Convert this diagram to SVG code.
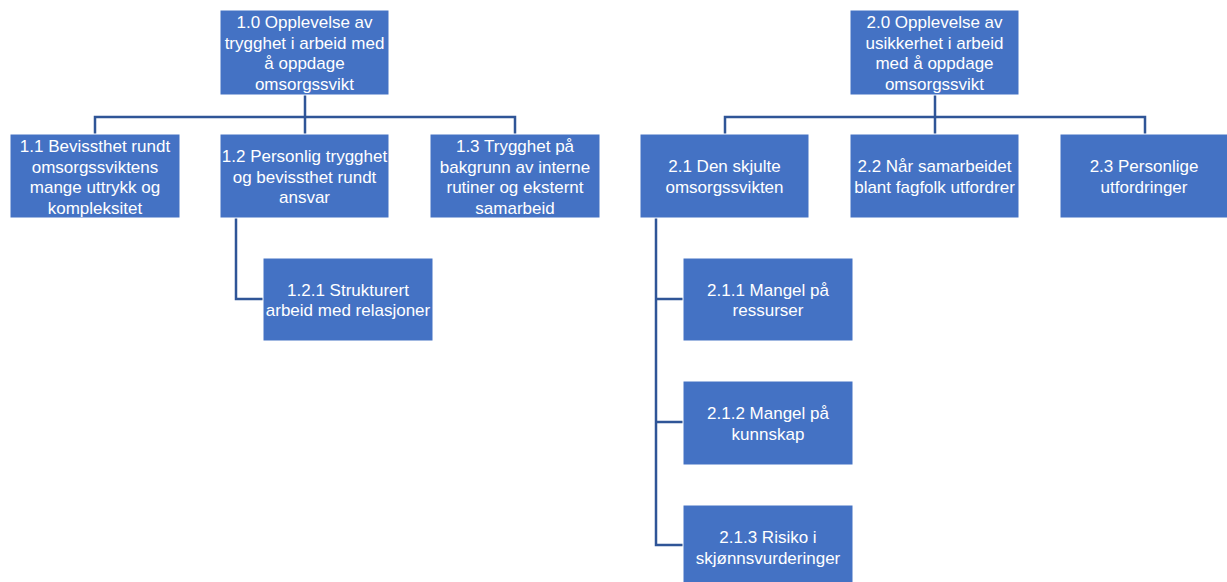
<svg xmlns="http://www.w3.org/2000/svg" width="1227" height="582" viewBox="0 0 1227 582">
<style>
.n{fill:#4472C4;stroke:#ffffff;stroke-width:1}
.t{fill:#ffffff;font-family:"Liberation Sans",Arial,sans-serif;font-size:17px;text-anchor:middle}
.c{fill:none;stroke:#2F5597;stroke-width:2.5}
</style>
<rect width="1227" height="582" fill="#ffffff"/>
<g id="connectors">
<path class="c" d="M305 95V117M95 134V117H515V134M305 117V134"/>
<path class="c" d="M236 218V299H263"/>
<path class="c" d="M935 95V117M725 134V117H1145V134M935 117V134"/>
<path class="c" d="M656 218V545H683M656 299H683M656 422H683"/>
</g>
<g id="n1_0"><rect class="n" x="220" y="10" width="169" height="85"/>
<text class="t"><tspan x="304.5" y="28">1.0 Opplevelse av</tspan><tspan x="304.5" y="48.5">trygghet i arbeid med</tspan><tspan x="304.5" y="69">å oppdage</tspan><tspan x="304.5" y="89.5">omsorgssvikt</tspan></text></g>
<g id="n1_1"><rect class="n" x="10" y="134" width="170" height="84"/>
<text class="t"><tspan x="95" y="152">1.1 Bevissthet rundt</tspan><tspan x="95" y="172.5">omsorgssviktens</tspan><tspan x="95" y="193">mange uttrykk og</tspan><tspan x="95" y="213.5">kompleksitet</tspan></text></g>
<g id="n1_2"><rect class="n" x="220" y="134" width="169" height="84"/>
<text class="t"><tspan x="304.5" y="162">1.2 Personlig trygghet</tspan><tspan x="304.5" y="182.5">og bevissthet rundt</tspan><tspan x="304.5" y="203">ansvar</tspan></text></g>
<g id="n1_3"><rect class="n" x="430" y="134" width="170" height="84"/>
<text class="t"><tspan x="515" y="152">1.3 Trygghet på</tspan><tspan x="515" y="172.5">bakgrunn av interne</tspan><tspan x="515" y="193">rutiner og eksternt</tspan><tspan x="515" y="213.5">samarbeid</tspan></text></g>
<g id="n1_2_1"><rect class="n" x="263" y="258" width="170" height="83"/>
<text class="t"><tspan x="348" y="295.5">1.2.1 Strukturert</tspan><tspan x="348" y="316">arbeid med relasjoner</tspan></text></g>
<g id="n2_0"><rect class="n" x="850" y="10" width="169" height="85"/>
<text class="t"><tspan x="934.5" y="28">2.0 Opplevelse av</tspan><tspan x="934.5" y="48.5">usikkerhet i arbeid</tspan><tspan x="934.5" y="69">med å oppdage</tspan><tspan x="934.5" y="89.5">omsorgssvikt</tspan></text></g>
<g id="n2_1"><rect class="n" x="640" y="134" width="169" height="84"/>
<text class="t"><tspan x="724.5" y="172">2.1 Den skjulte</tspan><tspan x="724.5" y="192.5">omsorgssvikten</tspan></text></g>
<g id="n2_2"><rect class="n" x="850" y="134" width="169" height="84"/>
<text class="t"><tspan x="934.5" y="172">2.2 Når samarbeidet</tspan><tspan x="934.5" y="192.5">blant fagfolk utfordrer</tspan></text></g>
<g id="n2_3"><rect class="n" x="1060" y="134" width="169" height="84"/>
<text class="t"><tspan x="1144" y="172">2.3 Personlige</tspan><tspan x="1144" y="192.5">utfordringer</tspan></text></g>
<g id="n2_1_1"><rect class="n" x="683" y="258" width="170" height="83"/>
<text class="t"><tspan x="768" y="295.5">2.1.1 Mangel på</tspan><tspan x="768" y="316">ressurser</tspan></text></g>
<g id="n2_1_2"><rect class="n" x="683" y="381" width="170" height="84"/>
<text class="t"><tspan x="768" y="419">2.1.2 Mangel på</tspan><tspan x="768" y="439.5">kunnskap</tspan></text></g>
<g id="n2_1_3"><rect class="n" x="683" y="505" width="170" height="84"/>
<text class="t"><tspan x="768" y="543">2.1.3 Risiko i</tspan><tspan x="768" y="563.5">skjønnsvurderinger</tspan></text></g>
</svg>
